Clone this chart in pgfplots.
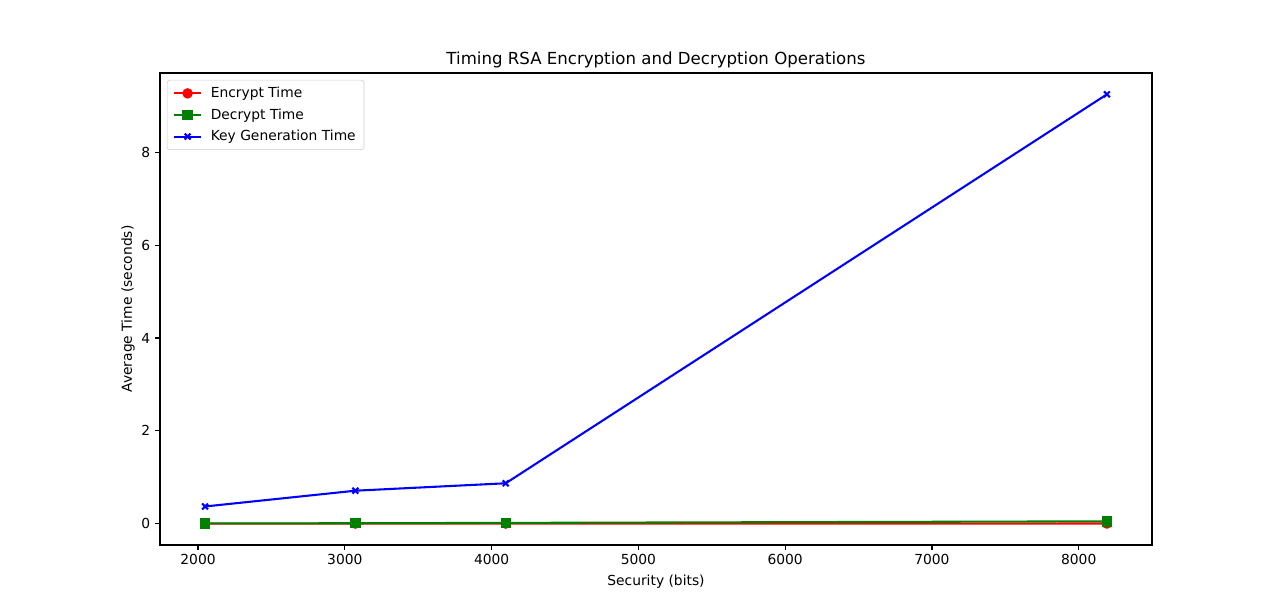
\documentclass[border=0pt]{standalone}
\usepackage{fontspec}
\setmainfont{DejaVu Sans}
\usepackage{pgfplots}
\pgfplotsset{compat=1.18}
\definecolor{mplgreen}{rgb}{0,0.5,0}
\definecolor{legedge}{gray}{0.8}

\begin{document}
\begin{tikzpicture}
\path[use as bounding box] (0,0) rectangle (12.8in,6.12in);
\begin{axis}[
  scale only axis,
  at={(1.6in,0.67in)}, anchor=south west,
  width=9.92in, height=4.72in,
  xmin=1740.8, xmax=8499.2,
  ymin=-0.46, ymax=9.71,
  xtick={2000,3000,4000,5000,6000,7000,8000},
  ytick={0,2,4,6,8},
  scaled x ticks=false,
  xticklabel style={/pgf/number format/1000 sep={}},
  /pgf/number format/assume math mode=true,
  tick label style={font=\fontsize{10}{12}\selectfont},
  tick align=outside, tick pos=left,
  major tick length=3.5pt,
  every tick/.style={black, line width=0.8pt},
  axis line style={line width=0.8pt},
  title={Timing RSA Encryption and Decryption Operations},
  title style={font=\fontsize{12}{14}\selectfont, yshift=-6pt},
  xlabel={Security (bits)},
  ylabel={Average Time (seconds)},
  ylabel style={yshift=-2pt},
  label style={font=\fontsize{10}{12}\selectfont},
  legend style={at={(0,1)}, anchor=north west, xshift=5pt, yshift=-5pt,
    draw=legedge, rounded corners=2pt, fill=white,
    font=\fontsize{10}{12}\selectfont, row sep=2.5pt, column sep=4pt,
    inner ysep=3pt, inner xsep=4pt},
  legend cell align=left,
  legend image code/.code={%
    \draw[mark repeat=2, mark phase=2]
      plot coordinates {(2pt,0pt) (12pt,0pt) (22pt,0pt)};},
]
\addplot[red, line width=1.5pt, mark=*, mark size=3pt]
  coordinates {(2048,0.0008)(3072,0.0010)(4096,0.0012)(8192,0.0025)};
\addlegendentry{Encrypt Time}
\addplot[mplgreen, line width=1.5pt, mark=square*, mark size=3pt]
  coordinates {(2048,0.004)(3072,0.009)(4096,0.016)(8192,0.050)};
\addlegendentry{Decrypt Time}
\addplot[blue, line width=1.5pt, mark=x, mark size=3pt]
  coordinates {(2048,0.37)(3072,0.71)(4096,0.87)(8192,9.25)};
\addlegendentry{Key Generation Time}
\end{axis}
\end{tikzpicture}
\end{document}
